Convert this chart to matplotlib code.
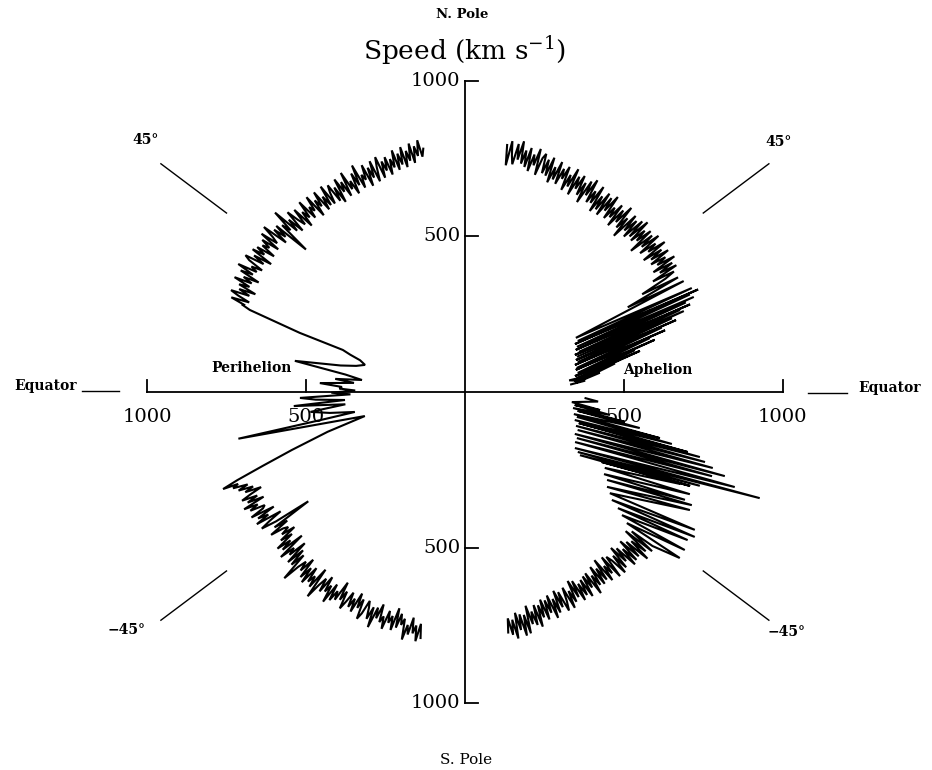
import numpy as np
import matplotlib

matplotlib.use("Agg")
import matplotlib.pyplot as plt

plt.rcParams["font.family"] = ["DejaVu Serif"]
plt.rcParams["mathtext.fontset"] = "dejavuserif"

# ---- data: solar wind speed (km/s) vs heliographic latitude (deg) ----
# left half: perihelion fast latitude scan, south pole -> north pole
ls_lat = [-80.0, -79.5, -79.0, -78.5, -78.0, -77.5, -77.0, -76.5, -76.0, -75.5,
          -75.0, -74.5, -74.0, -73.5, -73.0, -72.5, -72.0, -71.5, -71.0, -70.5,
          -70.0, -69.5, -69.0, -68.5, -68.0, -67.5, -67.0, -66.5, -66.0, -65.5,
          -65.0, -64.5, -64.0, -63.5, -63.0, -62.5, -62.0, -61.5, -61.0, -60.5,
          -60.0, -59.5, -59.0, -58.5, -58.0, -57.5, -57.0, -56.5, -56.0, -55.5,
          -55.0, -54.5, -54.0, -53.5, -53.0, -52.5, -52.0, -51.5, -51.0, -50.5,
          -50.0, -49.5, -49.0, -48.5, -48.0, -47.5, -47.0, -46.5, -46.0, -45.5,
          -45.0, -44.5, -44.0, -43.5, -43.0, -42.5, -42.0, -41.5, -41.0, -40.5,
          -40.0, -39.5, -39.0, -38.5, -38.0, -37.5, -37.0, -36.5, -36.0, -35.5,
          -35.0, -34.5, -34.0, -33.5, -33.0, -32.5, -32.0, -31.5, -31.0, -30.5,
          -30.0, -29.5, -29.0, -28.5, -28.0, -27.5, -27.0, -26.5, -26.0, -25.5,
          -25.0, -24.5, -24.0, -23.5, -23.0, -22.5]
ls_speed = [803, 758, 816, 766, 793, 743, 800, 770, 820, 753,
            775, 740, 788, 725, 800, 755, 780, 742, 805, 765,
            787, 729, 779, 745, 815, 749, 792, 757, 735, 782,
            804, 739, 772, 724, 792, 749, 782, 734, 769, 799,
            741, 775, 715, 783, 755, 793, 738, 808, 751, 778,
            727, 787, 742, 772, 822, 720, 794, 757, 784, 734,
            798, 745, 788, 720, 772, 740, 768, 825, 730, 778,
            720, 780, 700, 760, 735, 785, 690, 765, 727, 775,
            710, 750, 690, 735, 705, 720, 763, 695, 740, 605,
            725, 775, 740, 695, 780, 733, 767, 705, 783, 737,
            727, 775, 745, 790, 717, 770, 733, 783, 750, 710,
            762, 732, 779, 745, 792, 772]

slow_lat = [-22.3, -21.6, -20.5, -18.9, -16.5, -13.8, -11.9, -11.2, -10.5, -9.0,
            -7.5, -6.0, -4.8, -3.9, -3.0, -2.1, -1.2, -0.3, 0.8, 1.6,
            2.4, 3.6, 4.8, 5.9, 6.8, 8.5, 10.6, 12.3, 13.8, 15.5,
            17.2, 18.4, 19.4, 20.1, 20.8, 21.3, 21.8]
slow_speed = [822, 770, 680, 575, 450, 324, 728, 455, 352, 430,
              490, 378, 540, 378, 470, 519, 360, 420, 345, 395,
              387, 457, 350, 410, 326, 380, 544, 400, 352, 326,
              345, 380, 407, 553, 640, 726, 752]

ln_lat = [22.0, 22.5, 23.0, 23.5, 24.0, 24.5, 25.0, 25.5, 26.0, 26.5,
          27.0, 27.5, 28.0, 28.5, 29.0, 29.5, 30.0, 30.5, 31.0, 31.5,
          32.0, 32.5, 33.0, 33.5, 34.0, 34.5, 35.0, 35.5, 36.0, 36.5,
          37.0, 37.5, 38.0, 38.5, 39.0, 39.5, 40.0, 40.5, 41.0, 41.5,
          42.0, 42.5, 43.0, 43.5, 44.0, 44.5, 45.0, 45.5, 46.0, 46.5,
          47.0, 47.5, 48.0, 48.5, 49.0, 49.5, 50.0, 50.5, 51.0, 51.5,
          52.0, 52.5, 53.0, 53.5, 54.0, 54.5, 55.0, 55.5, 56.0, 56.5,
          57.0, 57.5, 58.0, 58.5, 59.0, 59.5, 60.0, 60.5, 61.0, 61.5,
          62.0, 62.5, 63.0, 63.5, 64.0, 64.5, 65.0, 65.5, 66.0, 66.5,
          67.0, 67.5, 68.0, 68.5, 69.0, 69.5, 70.0, 70.5, 71.0, 71.5,
          72.0, 72.5, 73.0, 73.5, 74.0, 74.5, 75.0, 75.5, 76.0, 76.5,
          77.0, 77.5, 78.0, 78.5, 79.0, 79.5, 80.0, 80.5]
ln_speed = [750, 795, 737, 777, 805, 745, 783, 730, 790, 757,
            813, 756, 788, 738, 806, 766, 823, 760, 783, 748,
            800, 818, 755, 795, 735, 810, 770, 802, 742, 792,
            770, 803, 745, 817, 760, 783, 825, 740, 795, 753,
            798, 678, 786, 756, 830, 740, 783, 728, 803, 763,
            737, 794, 720, 772, 744, 802, 732, 770, 750, 800,
            721, 776, 748, 798, 726, 771, 734, 801, 731, 768,
            792, 729, 775, 717, 797, 747, 779, 725, 805, 742,
            768, 720, 788, 743, 810, 728, 770, 750, 798, 723,
            783, 746, 800, 728, 773, 806, 733, 786, 753, 796,
            735, 785, 755, 810, 743, 795, 757, 813, 745, 797,
            763, 818, 753, 806, 773, 823, 768, 793]

# right half, north: aphelion pass, north pole -> equator
rn_lat = [80.5, 80.0, 79.5, 79.0, 78.5, 78.0, 77.5, 77.0, 76.5, 76.0,
          75.5, 75.0, 74.5, 74.0, 73.5, 73.0, 72.5, 72.0, 71.5, 71.0,
          70.5, 70.0, 69.5, 69.0, 68.5, 68.0, 67.5, 67.0, 66.5, 66.0,
          65.5, 65.0, 64.5, 64.0, 63.5, 63.0, 62.5, 62.0, 61.5, 61.0,
          60.5, 60.0, 59.5, 59.0, 58.5, 58.0, 57.5, 57.0, 56.5, 56.0,
          55.5, 55.0, 54.5, 54.0, 53.5, 53.0, 52.5, 52.0, 51.5, 51.0,
          50.5, 50.0, 49.5, 49.0, 48.5, 48.0, 47.5, 47.0, 46.5, 46.0,
          45.5, 45.0, 44.5, 44.0, 43.5, 43.0, 42.5, 42.0, 41.5, 41.0,
          40.5, 40.0, 39.5, 39.0, 38.5, 38.0, 37.5, 37.0, 36.5, 36.0,
          35.5, 35.0, 34.5, 34.0, 33.5, 33.0, 32.5, 32.0, 31.5, 31.0,
          30.5, 30.0,
          29.4, 28.8, 28.0, 27.4,
          26.5, 25.1, 24.8, 24.2, 24.0, 23.9, 22.4, 23.0, 21.2, 22.5,
          19.8, 21.7, 19.0, 21.3, 17.8, 20.7, 16.4, 20.0, 15.2, 19.2,
          14.1, 18.5, 12.4, 17.5, 11.5, 16.6, 9.8, 15.7, 8.4, 14.1,
          7.3, 13.5, 5.9, 11.0, 4.8, 8.3, 6.5, 5.5, 4.2]
rn_speed = [805, 740, 820, 775, 747, 815, 765, 827, 755, 800,
            747, 812, 737, 794, 760, 817, 732, 790, 807, 744,
            792, 740, 804, 722, 777, 737, 800, 727, 782, 750,
            795, 717, 773, 735, 800, 713, 780, 740, 790, 725,
            772, 705, 785, 738, 798, 720, 765, 725, 790, 702,
            763, 717, 783, 705, 775, 730, 790, 710, 757, 723,
            777, 700, 767, 724, 790, 712, 757, 687, 780, 722,
            770, 707, 782, 720, 792, 714, 767, 727, 780, 692,
            774, 726, 789, 709, 766, 732, 792, 704, 769, 724,
            785, 715, 765, 730, 790, 707, 773, 723, 780, 690,
            763, 728,
            640, 765, 580, 775,
            390, 788, 391, 804, 379, 774, 381, 782, 374, 752,
            381, 762, 366, 726, 370, 736, 364, 693, 368, 703,
            357, 653, 360, 660, 356, 607, 360, 620, 350, 551,
            355, 566, 345, 481, 350, 429, 330, 380, 335]

# right half, south: aphelion pass, equator -> south pole
rs_lat = [-3.0, -4.2,
          -5.5, -7.8, -6.9, -9.2, -8.6, -10.8, -9.7, -11.9, -11.7, -13.6,
          -12.8, -14.4, -14.6, -15.4, -15.6, -15.8, -17.3, -16.6, -19.0, -17.4,
          -21.3, -18.3, -22.8, -19.2, -24.9, -19.8, -27.5, -20.2, -28.5, -22.2,
          -29.3, -23.1, -27.6, -23.6, -29.0, -24.9, -31.1, -26.6, -32.3, -27.0,
          -34.3, -28.2, -35.5, -31.5, -36.9, -32.8, -37.8, -34.2, -38.7, -36.3,
          -39.6, -38.3,
          -40.0, -40.5, -41.0, -41.5, -42.0, -42.5, -43.0, -43.5, -44.0, -44.5,
          -45.0, -45.5, -46.0, -46.5, -47.0, -47.5, -48.0, -48.5, -49.0, -49.5,
          -50.0, -50.5, -51.0, -51.5, -52.0, -52.5, -53.0, -53.5, -54.0, -54.5,
          -55.0, -55.5, -56.0, -56.5, -57.0, -57.5, -58.0, -58.5, -59.0, -59.5,
          -60.0, -60.5, -61.0, -61.5, -62.0, -62.5, -63.0, -63.5, -64.0, -64.5,
          -65.0, -65.5, -66.0, -66.5, -67.0, -67.5, -68.0, -68.5, -69.0, -69.5,
          -70.0, -70.5, -71.0, -71.5, -72.0, -72.5, -73.0, -73.5, -74.0, -74.5,
          -75.0, -75.5, -76.0, -76.5, -77.0, -77.5, -78.0, -78.5, -79.0, -79.5,
          -80.0]
rs_speed = [380, 420,
            338, 429, 348, 462, 344, 512, 360, 562, 350, 631,
            361, 672, 357, 727, 372, 768, 366, 788, 375, 817,
            371, 861, 382, 823, 382, 902, 390, 988, 404, 798,
            415, 770, 486, 738, 503, 780, 511, 774, 529, 801,
            541, 803, 560, 848, 578, 860, 609, 847, 633, 858,
            661, 861,
            770, 690, 780, 675, 765, 710, 785, 700, 760, 685,
            763, 708, 770, 693, 743, 680, 758, 703, 768, 713,
            692, 767, 684, 744, 710, 762, 677, 750, 702, 757,
            687, 752, 712, 775, 695, 745, 699, 769, 705, 757,
            712, 768, 695, 750, 688, 760, 718, 775, 700, 745,
            775, 707, 757, 697, 770, 720, 783, 703, 760, 715,
            778, 708, 766, 723, 793, 718, 783, 736, 776, 713,
            803, 740, 807, 735, 785, 727, 810, 747, 795, 740,
            785]

axis_ticks = [500, 1000]
guide_angle = 37.5
guide_r = [945, 1205]


def polar_to_xy(lat, speed, side):
    lat = np.radians(np.asarray(lat, dtype=float))
    speed = np.asarray(speed, dtype=float)
    return side * speed * np.cos(lat), speed * np.sin(lat)


fig = plt.figure(figsize=(9.32, 7.70), dpi=100)
ax = fig.add_axes([0, 0, 1, 1])
ax.set_xlim(-1462, 1469)
ax.set_ylim(-1215, 1260)
ax.axis("off")

line_kw = dict(color="black", linewidth=1.5, solid_joinstyle="miter")

# left: perihelion scan
left_lat = ls_lat + slow_lat + ln_lat
left_speed = ls_speed + slow_speed + ln_speed
x, y = polar_to_xy(left_lat, left_speed, -1)
ax.plot(x, y, **line_kw)

# right: aphelion passes
x, y = polar_to_xy(rn_lat, rn_speed, 1)
ax.plot(x, y, **line_kw)
x, y = polar_to_xy(rs_lat, rs_speed, 1)
ax.plot(x, y, **line_kw)

# axes drawn by hand
ax_kw = dict(color="black", linewidth=1.3)
ax.plot([0, 0], [-1000, 1000], **ax_kw)
ax.plot([-1000, 1000], [0, 0], **ax_kw)
for t in axis_ticks:
    for s in (-1, 1):
        ax.plot([0, 40], [s * t, s * t], **ax_kw)
        ax.plot([s * t, s * t], [0, 40], **ax_kw)
        ax.text(s * t, -80, str(t), ha="center", va="center", fontsize=14)
        ax.text(-14, s * t, str(t), ha="right", va="center", fontsize=14)

# 45 degree guide lines
for sx in (-1, 1):
    for sy in (-1, 1):
        gx, gy = polar_to_xy([sy * guide_angle] * 2, guide_r, sx)
        ax.plot(gx, gy, color="black", linewidth=1.0)

bold = dict(fontweight="bold")
ax.text(-1003, 810, "45°", ha="center", va="center", fontsize=10, **bold)
ax.text(987, 804, "45°", ha="center", va="center", fontsize=10, **bold)
ax.text(-1063, -765, "−45°", ha="center", va="center", fontsize=10, **bold)
ax.text(1013, -772, "−45°", ha="center", va="center", fontsize=10, **bold)

# equator markers
ax.plot([-1205, -1087], [3, 3], color="black", linewidth=1.0)
ax.plot([1079, 1201], [-3, -3], color="black", linewidth=1.0)
ax.text(-1222, 19, "Equator", ha="right", va="center", fontsize=10, **bold)
ax.text(1236, 13, "Equator", ha="left", va="center", fontsize=10, **bold)

ax.text(-544, 77, "Perihelion", ha="right", va="center", fontsize=10, **bold)
ax.text(497, 71, "Aphelion", ha="left", va="center", fontsize=10, **bold)

ax.text(-10, 1212, "N. Pole", ha="center", va="center", fontsize=9.5, **bold)
ax.text(3, -1183, "S. Pole", ha="center", va="center", fontsize=11)
ax.text(0, 1067, r"Speed (km s$^{-1}$)", ha="center", va="baseline", fontsize=19)

fig.savefig("out.png", dpi=100)
